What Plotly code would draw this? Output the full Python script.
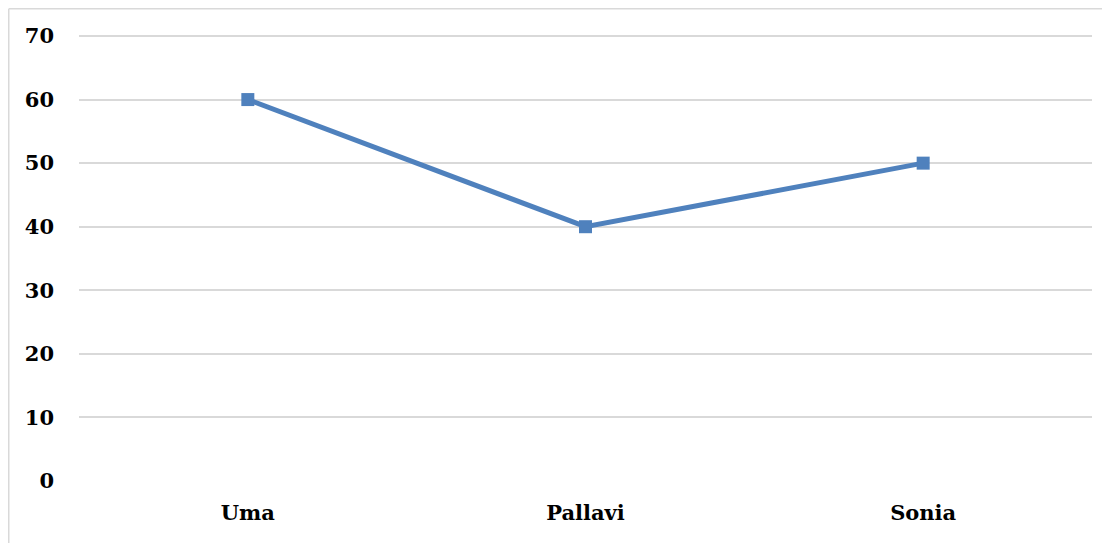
import plotly.graph_objects as go

categories = ["Uma", "Pallavi", "Sonia"]
values = [60, 40, 50]
y_ticks = [0, 10, 20, 30, 40, 50, 60, 70]

# The browser body has an 8px default margin, so the figure is sized to fit inside it.
W, H = 1102, 535
L, T = 71, 26
pw, ph = 1013, 447
R, B = W - L - pw, H - T - ph
y_top = 70 * ph / 445  # a little headroom so the 70 gridline is drawn

font = dict(family="DejaVu Serif", size=21, color="#000000", weight="bold")

fig = go.Figure()
fig.add_trace(go.Scatter(
    x=categories, y=values, mode="lines+markers",
    line=dict(color="#4f81bd", width=5),
    marker=dict(symbol="square", size=13, color="#4f81bd"),
    showlegend=False,
))

fig.update_layout(
    width=W, height=H,
    margin=dict(l=L, r=R, t=T, b=B, autoexpand=False),
    plot_bgcolor="white", paper_bgcolor="white",
    font=dict(family="DejaVu Serif"),
    xaxis=dict(range=[-0.5, 2.5], showgrid=False, zeroline=False, showline=False,
               tickfont=font, ticks="", ticklabelstandoff=17),
    yaxis=dict(range=[0, y_top], tickvals=y_ticks, showgrid=True, gridcolor="#d9d9d9",
               gridwidth=1.5, zeroline=False, showline=False, tickfont=font,
               ticks="", ticklabelstandoff=24),
)

# outer chart border: left and top edges (right/bottom run off the page)
def px_x(p):
    return (p - L) / pw

def px_y(p):
    return (T + ph - p) / ph

edge = 0.75
fig.add_shape(type="line", xref="paper", yref="paper",
              x0=px_x(edge), x1=px_x(edge), y0=px_y(H), y1=px_y(edge),
              line=dict(color="#d9d9d9", width=1.5))
fig.add_shape(type="line", xref="paper", yref="paper",
              x0=px_x(edge), x1=px_x(W), y0=px_y(edge), y1=px_y(edge),
              line=dict(color="#d9d9d9", width=1.5))

fig.write_html("out.html")
